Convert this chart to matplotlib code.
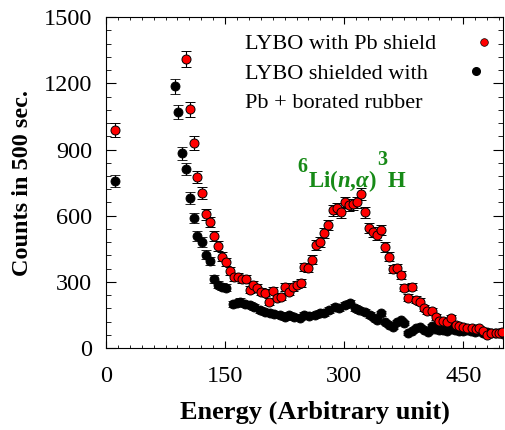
import numpy as np
import matplotlib.pyplot as plt
from matplotlib.lines import Line2D
from matplotlib.ticker import MultipleLocator

plt.rcParams['font.family'] = 'Liberation Serif'
plt.rcParams['mathtext.fontset'] = 'custom'
plt.rcParams['mathtext.rm'] = 'Liberation Serif:bold'
plt.rcParams['mathtext.it'] = 'Liberation Serif:italic:bold'
plt.rcParams['mathtext.bf'] = 'Liberation Serif:bold'

# LYBO with Pb shield (red)
pb_energy = [11, 101, 106, 111, 115, 121, 126, 131, 136, 141, 146, 151, 156, 161, 166,
             171, 176, 181, 185, 190, 195, 200, 205, 210, 215, 221, 225, 230, 235, 240,
             246, 250, 255, 260, 265, 270, 275, 280, 286, 291, 296, 301, 306, 311, 316,
             321, 326, 331, 336, 341, 346, 351, 356, 361, 366, 371, 375, 380, 385, 391,
             395, 400, 404, 410, 416, 420, 425, 430, 435, 441, 445, 450, 455, 461, 466,
             470, 475, 480, 485, 491, 495, 499]
pb_counts = [990, 1309, 1082, 929, 774, 703, 607, 572, 508, 463, 413, 390, 350, 323, 323,
             313, 313, 264, 287, 273, 255, 250, 210, 260, 227, 232, 277, 255, 277, 287,
             296, 367, 362, 400, 467, 481, 521, 557, 625, 634, 616, 661, 648, 652, 661,
             697, 616, 544, 526, 512, 535, 458, 413, 358, 363, 332, 273, 228, 278, 219,
             210, 182, 169, 169, 141, 123, 123, 118, 136, 105, 100, 96, 91, 91, 85,
             91, 75, 59, 70, 68, 70, 73]

# LYBO shielded with Pb + borated rubber (black)
bor_energy = [11, 87, 91, 96, 101, 106, 111, 115, 121, 126, 131, 136, 141, 146, 151,
              160, 165, 169, 175, 181, 187, 194, 200, 206, 212, 219, 225, 231, 237, 244,
              250, 256, 263, 269, 275, 281, 288, 294, 301, 307, 313, 319, 326, 332, 338,
              341, 346, 351, 356, 361, 366, 371, 375, 380, 385, 391, 395, 400, 405, 410,
              415, 420, 425, 430, 435, 440, 445, 450, 455, 460, 465, 470, 475, 480, 485,
              490, 495, 500]
bor_counts = [757, 1187, 1069, 883, 811, 680, 589, 508, 481, 422, 395, 313, 287, 278, 273,
              200, 205, 210, 200, 196, 187, 173, 164, 159, 155, 150, 141, 150, 141, 137,
              150, 146, 150, 159, 159, 173, 187, 182, 196, 205, 182, 173, 164, 150, 137,
              127, 157, 118, 105, 96, 118, 127, 114, 68, 77, 91, 96, 82, 73, 100,
              85, 82, 80, 78, 85, 80, 78, 75, 80, 78, 72, 75, 70, 72, 68,
              70, 66, 62]

labels = ['LYBO with Pb shield', 'LYBO shielded with', 'Pb + borated rubber']
green = '#178a17'

fig = plt.figure(figsize=(5.06, 4.30), dpi=100)
ax = fig.add_axes([0.2095, 0.1907, 0.7845, 0.7693])

ax.errorbar(bor_energy, bor_counts, yerr=np.sqrt(bor_counts), fmt='o', color='black',
            ms=6.5, mec='black', mew=0.6, ecolor='black', elinewidth=0.8, capsize=3.3,
            capthick=0.8, zorder=2)
ax.errorbar(pb_energy, pb_counts, yerr=np.sqrt(pb_counts), fmt='o', color='#ff0000',
            ms=6.5, mec='black', mew=0.7, ecolor='black', elinewidth=0.8, capsize=3.3,
            capthick=0.8, zorder=3)

ax.set_xlim(0, 500)
ax.set_ylim(0, 1500)
ax.xaxis.set_major_locator(MultipleLocator(150))
ax.xaxis.set_minor_locator(MultipleLocator(15))
ax.yaxis.set_major_locator(MultipleLocator(300))
ax.yaxis.set_minor_locator(MultipleLocator(60))
ax.tick_params(which='both', direction='in', top=True, right=True, labelsize=17.5)
ax.tick_params(axis='x', which='major', length=5, pad=13)
ax.tick_params(axis='x', which='minor', length=2.5)
ax.tick_params(axis='y', which='major', length=7, pad=10)
ax.tick_params(axis='y', which='minor', length=3.5)

ax.set_xlabel('Energy (Arbitrary unit)', fontsize=19, fontweight='bold', labelpad=6)
ax.set_ylabel('Counts in 500 sec.', fontsize=17.5, fontweight='bold', labelpad=8)
ax.xaxis.set_label_coords(0.527, -0.16)

handles = [
    Line2D([], [], ls='none', marker='o', color='#ff0000', mec='black', mew=0.5, ms=5.5),
    Line2D([], [], ls='none', marker='o', color='black', ms=5.5),
    Line2D([], [], ls='none'),
]
leg = ax.legend(handles, labels, loc='upper left', markerfirst=False, frameon=False,
                fontsize=16, handlelength=1.0, handletextpad=1.65, labelspacing=0.4,
                borderpad=0, borderaxespad=0, bbox_to_anchor=(0.35, 0.95))
# rows left aligned, marker right after each label
for col in leg._legend_handle_box.get_children():
    col.align = 'left'

# 6Li(n,alpha)3H annotation
ax.text(0.507, 0.532, '6', transform=ax.transAxes, ha='right', va='baseline',
        fontsize=14.5, fontweight='bold', color=green)
ax.text(0.509, 0.4866, r'Li($\mathit{n}$,$\alpha$)', transform=ax.transAxes, ha='left',
        va='baseline', fontsize=16.5, fontweight='bold', color=green)
ax.text(0.682, 0.552, '3', transform=ax.transAxes, ha='left', va='baseline',
        fontsize=14.5, fontweight='bold', color=green)
ax.text(0.710, 0.4866, 'H', transform=ax.transAxes, ha='left', va='baseline',
        fontsize=16.5, fontweight='bold', color=green)

fig.savefig('out.png', dpi=100)
